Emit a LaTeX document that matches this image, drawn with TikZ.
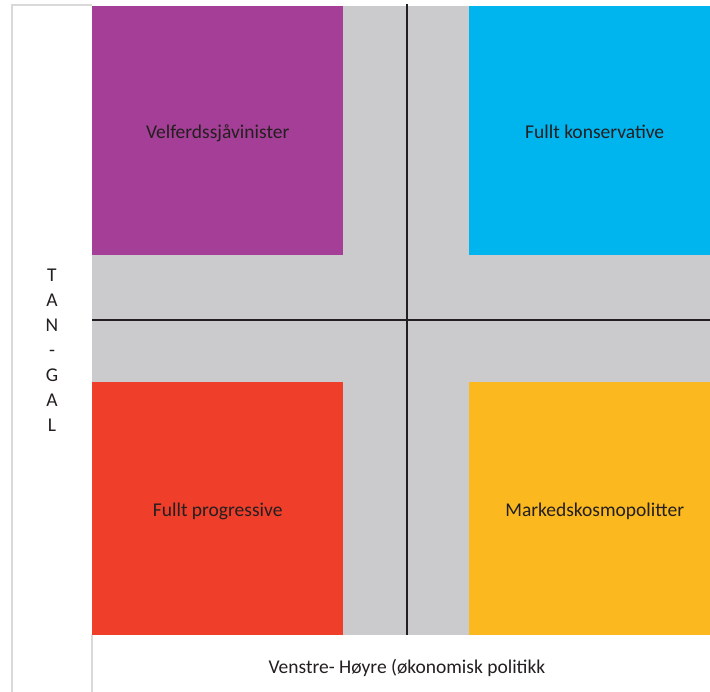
\documentclass[tikz,border=0pt]{standalone}
\usepackage{fontspec}
\setmainfont{Carlito}
\usetikzlibrary{positioning}
\definecolor{welfarepurple}{HTML}{A43E96}
\definecolor{consblue}{HTML}{00B4EE}
\definecolor{progred}{HTML}{EF3E2A}
\definecolor{marketorange}{HTML}{FBB91F}
\definecolor{fieldgray}{HTML}{CBCBCD}
\definecolor{framegray}{HTML}{D9D9D9}
\definecolor{textdark}{HTML}{231F20}

\begin{document}
\begin{tikzpicture}[x=1pt, y=-1pt, font=\fontsize{19.5}{22}\selectfont, text=textdark]
\tikzstyle{quadrant} = [rectangle, minimum width=251pt, minimum height=249pt, inner sep=0pt, text height=16pt, text depth=0pt, text centered, draw=none]
\tikzstyle{frame} = [framegray, line width=2pt]
\tikzstyle{axis} = [textdark, line width=1.6pt]

\useasboundingbox (0,0) rectangle (710,692);

% grey field behind the four squares
\fill[fieldgray] (92,6) rectangle (710,635);

\node (welfare) [quadrant, fill=welfarepurple, anchor=north west] at (92,6) {Velferdssjåvinister};
\node (conservative) [quadrant, fill=consblue, anchor=north west] at (469,6) {Fullt konservative};
\node (progressive) [quadrant, fill=progred, minimum height=253pt, anchor=south west] at (92,635) {Fullt progressive};
\node (market) [quadrant, fill=marketorange, minimum height=253pt, anchor=south west] at (469,635) {Markedskosmopolitter};
\fill[white] (710,0) rectangle (730,692);

% axes
\coordinate (ytop) at (407,4);
\coordinate (ybot) at (407,635);
\coordinate (xleft) at (92,320);
\coordinate (xright) at (710,320);
\draw[axis] (ytop) -- (ybot);
\draw[axis] (xleft) -- (xright);

% frame
\coordinate (fbl) at (12,692);
\coordinate (ftl) at (12,5);
\coordinate (ftr) at (92,5);
\coordinate (lbtop) at (92,635);
\coordinate (lbbot) at (92,692);
\draw[frame] (fbl) -- (ftl) -- (ftr);
\draw[frame] (lbtop) -- (lbbot);

% axis labels
\node (tangal) [align=center, font=\fontsize{19.5}{25}\selectfont] at (52,350) {T\\A\\N\\-\\G\\A\\L};
\node (econ) [text height=17pt, text depth=0pt] at (407,665) {Venstre- Høyre (økonomisk politikk};

\end{tikzpicture}
\end{document}
